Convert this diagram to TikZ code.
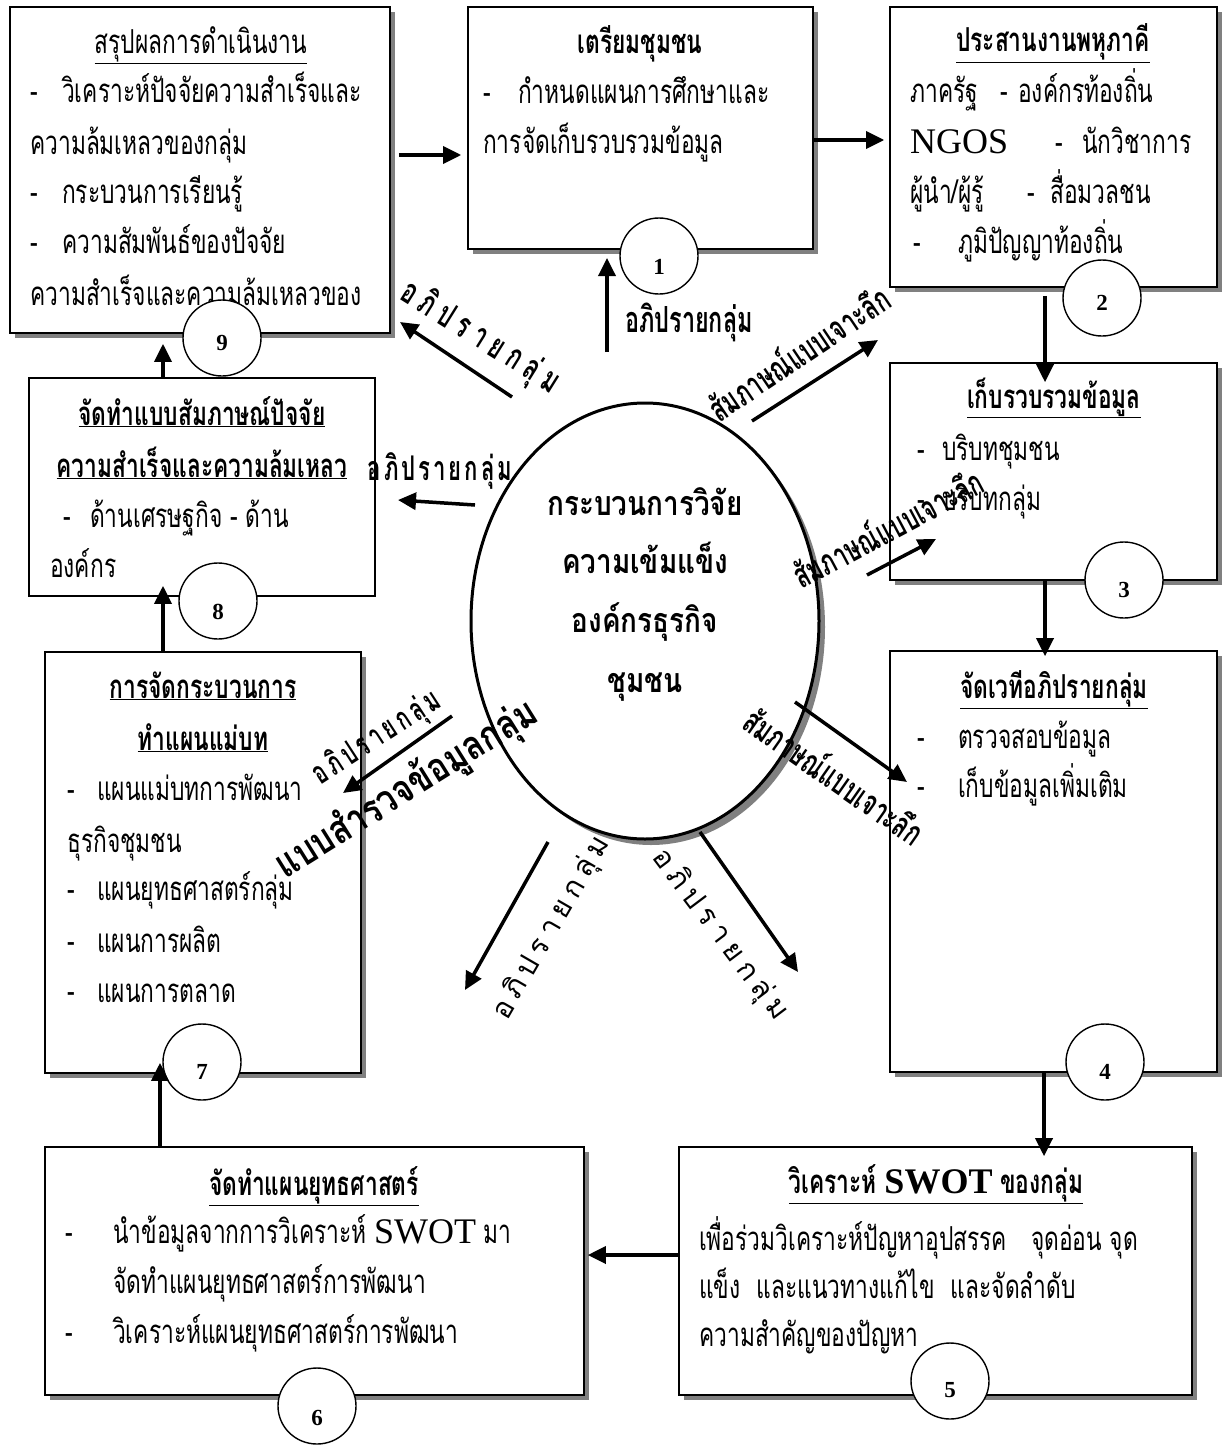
\documentclass[tikz,border=0pt]{standalone}
\usepackage{fontspec}
\setmainfont{Liberation Serif}
\newfontfamily\thai[Script=Thai,FakeStretch=0.69]{Loma}
\newfontfamily\thaic[Script=Thai,FakeStretch=0.65]{Loma}
\newfontfamily\thaiw[Script=Thai,FakeStretch=0.82]{Loma}
\newfontfamily\thain[Script=Thai]{Loma}
\usetikzlibrary{shapes.geometric,shadows,arrows.meta}
\newcommand\bodyth{\thai\fontsize{33}{38}\selectfont}
\newcommand\dashitem[2]{\makebox[#1][l]{-}#2}
\newcommand\latbig{\rmfamily\fontsize{36}{36}\selectfont}
\newlength\lgap
\newcommand\ksp{\hspace{\lgap}}
\tikzset{
  box/.style={draw, line width=1.6pt, fill=white, inner sep=0},
  shad/.style={drop shadow={shadow xshift=5pt, shadow yshift=-5pt, fill=gray, opacity=1}},
  num/.style={ellipse, draw, line width=1.4pt, fill=white, minimum width=78pt, minimum height=76pt, inner sep=0},
  numtxt/.style={inner sep=0, font=\fontsize{23}{23}\selectfont\bfseries},
  txt/.style={inner sep=0, anchor=base west, font=\bodyth},
  ttl/.style={inner sep=0, anchor=base, font=\bodyth\bfseries},
  ttlr/.style={inner sep=0, anchor=base, font=\bodyth},
  etxt/.style={inner sep=0, anchor=base, font=\thaiw\bfseries\fontsize{34}{34}\selectfont},
  arr/.style={line width=3.5pt, -{Triangle[length=18pt,width=17pt]}},
  lab/.style={inner sep=0, font=\thaic\bfseries\fontsize{35}{35}\selectfont},
  labn/.style={inner sep=0, font=\thain\fontsize{29}{29}\selectfont},
}
\begin{document}
\begin{tikzpicture}[x=1pt,y=-1pt]
\useasboundingbox (0,0) rectangle (1228,1445);
\fill[white] (0,0) rectangle (1228,1445);
% boxes
\node[box,shad,minimum width=380pt,minimum height=326pt] (b9) at (200,170) {};
\node[box,shad,minimum width=345pt,minimum height=242pt] (b1) at (640.5,128) {};
\node[box,shad,minimum width=327pt,minimum height=280pt] (b2) at (1053.5,147) {};
\node[box,minimum width=346pt,minimum height=218pt] (b8) at (202,487) {};
\node[box,shad,minimum width=327pt,minimum height=217pt] (b3) at (1053.5,471.5) {};
\node[box,shad,minimum width=316pt,minimum height=421pt] (b7) at (203,862.5) {};
\node[box,shad,minimum width=327pt,minimum height=421pt] (b4) at (1053.5,861.5) {};
\node[box,shad,minimum width=539pt,minimum height=248pt] (b6) at (314.5,1271) {};
\node[box,shad,minimum width=513pt,minimum height=248pt] (b5) at (935.5,1271) {};
% central ellipse
\node[ellipse,draw,line width=3pt,fill=white,minimum width=348pt,minimum height=436pt,inner sep=0,
  drop shadow={shadow xshift=6pt,shadow yshift=-6pt,fill=gray,opacity=1}] (E) at (645,621) {};
% box 9 text
\node[ttlr] (t9a) at (201,53) {\underline{สรุปผลการดำเนินงาน}};
\node[txt] (t9b) at (30,102) {\dashitem{32pt}{วิเคราะห์ปัจจัยความสำเร็จและ}};
\node[txt] (t9c) at (30,154) {ความล้มเหลวของกลุ่ม};
\node[txt] (t9d) at (30,203) {\dashitem{32pt}{กระบวนการเรียนรู้}};
\node[txt] (t9e) at (30,253) {\dashitem{32pt}{ความสัมพันธ์ของปัจจัย}};
\node[txt] (t9f) at (30,305) {ความสำเร็จและความล้มเหลวของ};
% box 1 text
\node[ttl] (t1a) at (640,53) {เตรียมชุมชน};
\node[txt] (t1b) at (483,103) {\dashitem{35pt}{กำหนดแผนการศึกษาและ}};
\node[txt] (t1c) at (483,153) {การจัดเก็บรวบรวมข้อมูล};
% box 2 text
\node[ttl] (t2a) at (1053,52) {\underline{ประสานงานพหุภาคี}};
\node[txt] (t2b) at (910,102) {\makebox[90pt][l]{ภาครัฐ}\makebox[18pt][l]{-}องค์กรท้องถิ่น};
\node[txt] (t2c) at (910,153) {\makebox[145pt][l]{\latbig NGOS}\makebox[27pt][l]{-}นักวิชาการ};
\node[txt] (t2d) at (910,203) {\makebox[117pt][l]{ผู้นำ/ผู้รู้}\makebox[23pt][l]{-}สื่อมวลชน};
\node[txt] (t2e) at (913,253) {\dashitem{45pt}{ภูมิปัญญาท้องถิ่น}};
% box 8 text
\node[ttl] (t8a) at (202,425) {\underline{จัดทำแบบสัมภาษณ์ปัจจัย}};
\node[ttl] (t8b) at (202,477) {\underline{ความสำเร็จและความล้มเหลว}};
\node[txt] (t8c) at (63,527) {\dashitem{27pt}{ด้านเศรษฐกิจ - ด้าน}};
\node[txt] (t8d) at (50,577) {องค์กร};
% box 3 text
\node[ttl] (t3a) at (1054,408) {\underline{เก็บรวบรวมข้อมูล}};
\node[txt] (t3b) at (917,460) {\dashitem{25pt}{บริบทชุมชน}};
\node[txt] (t3c) at (917,510) {\dashitem{25pt}{บริบทกลุ่ม}};
% box 7 text
\node[ttl] (t7a) at (203,698) {\underline{การจัดกระบวนการ}};
\node[ttl] (t7b) at (203,750) {\underline{ทำแผนแม่บท}};
\node[txt] (t7c) at (67,800) {\dashitem{30pt}{แผนแม่บทการพัฒนา}};
\node[txt] (t7d) at (67,852) {ธุรกิจชุมชน};
\node[txt] (t7e) at (67,900) {\dashitem{30pt}{แผนยุทธศาสตร์กลุ่ม}};
\node[txt] (t7f) at (67,952) {\dashitem{30pt}{แผนการผลิต}};
\node[txt] (t7g) at (67,1002) {\dashitem{30pt}{แผนการตลาด}};
% box 4 text
\node[ttl] (t4a) at (1054,698) {\underline{จัดเวทีอภิปรายกลุ่ม}};
\node[txt] (t4b) at (917,748) {\dashitem{41pt}{ตรวจสอบข้อมูล}};
\node[txt] (t4c) at (917,797) {\dashitem{41pt}{เก็บข้อมูลเพิ่มเติม}};
% box 6 text
\node[ttl] (t6a) at (314,1195) {\underline{จัดทำแผนยุทธศาสตร์}};
\node[txt] (t6b) at (65,1243) {\dashitem{48pt}{นำข้อมูลจากการวิเคราะห์ {\latbig SWOT} มา}};
\node[txt] (t6c) at (113,1293) {จัดทำแผนยุทธศาสตร์การพัฒนา};
\node[txt] (t6d) at (65,1343) {\dashitem{48pt}{วิเคราะห์แผนยุทธศาสตร์การพัฒนา}};
% box 5 text
\node[ttl] (t5a) at (936,1193) {\underline{วิเคราะห์ {\latbig\bfseries SWOT} ของกลุ่ม}};
\node[txt] (t5b) at (699,1250) {เพื่อร่วมวิเคราะห์ปัญหาอุปสรรค\hspace{24pt}จุดอ่อน จุด};
\node[txt] (t5c) at (699,1298) {แข็ง\hspace{16pt}และแนวทางแก้ไข\hspace{16pt}และจัดลำดับ};
\node[txt] (t5d) at (699,1346) {ความสำคัญของปัญหา};
% ellipse text
\node[etxt] (e1) at (645,515) {กระบวนการวิจัย};
\node[etxt] (e2) at (645,573) {ความเข้มแข็ง};
\node[etxt] (e3) at (645,632) {องค์กรธุรกิจ};
\node[etxt] (e4) at (645,692) {ชุมชน};
% numbered circles
\node[num] (c9) at (222,338) {};
\node[num] (c1) at (659,256) {};
\node[num] (c2) at (1102,298) {};
\node[num] (c3) at (1124,580) {};
\node[num] (c8) at (218,601) {};
\node[num] (c4) at (1105,1062) {};
\node[num] (c7) at (202,1062) {};
\node[num] (c5) at (950,1381) {};
\node[num] (c6) at (317,1406) {};
\node[numtxt] (n9) at (222,343) {9};
\node[numtxt] (n1) at (659,267) {1};
\node[numtxt] (n2) at (1102,303) {2};
\node[numtxt] (n3) at (1124,590) {3};
\node[numtxt] (n8) at (218,612) {8};
\node[numtxt] (n4) at (1105,1072) {4};
\node[numtxt] (n7) at (202,1072) {7};
\node[numtxt] (n5) at (950,1390) {5};
\node[numtxt] (n6) at (317,1418) {6};
% box-to-box arrows
\coordinate (p1) at ([yshift=15pt]b9.east);
\draw[arr,shorten <=8pt,shorten >=6pt] (p1) -- (p1 -| b1.west);
\coordinate (p2) at ([yshift=-12pt]b1.east);
\draw[arr,shorten >=5pt] (p2) -- (p2 -| b2.west);
\coordinate (p3) at ([xshift=-8.5pt]b2.south);
\coordinate (p3e) at (p3 |- b3.north);
\draw[arr,shorten <=8pt] (p3) -- ([yshift=-20pt]p3e);
\coordinate (p4) at ([xshift=-8.5pt]b3.south);
\coordinate (p4e) at (p4 |- b4.north);
\draw[arr] (p4) -- ([yshift=-6pt]p4e);
\coordinate (p5) at ([xshift=-9.5pt]b4.south);
\coordinate (p5e) at (p5 |- b5.north);
\draw[arr] (p5) -- ([yshift=-10pt]p5e);
\coordinate (p6) at ([yshift=16pt]b5.west);
\draw[arr,shorten >=3pt] (p6) -- (p6 -| b6.east);
\coordinate (p7) at ([xshift=-154.5pt]b6.north);
\coordinate (p7e) at (p7 |- b7.south);
\draw[arr] (p7) -- ([yshift=11pt]p7e);
\coordinate (p8) at ([xshift=-40pt]b7.north);
\coordinate (p8e) at (p8 |- b8.south);
\draw[arr] (p8) -- ([yshift=11pt]p8e);
\coordinate (p9) at ([xshift=-39pt]b8.north);
\coordinate (p9e) at (p9 |- b9.south);
\draw[arr] (p9) -- ([yshift=-10pt]p9e);
% ellipse arrows
\coordinate (e1s) at (607,352); \coordinate (e1e) at (607,258);
\coordinate (e2s) at (512,397); \coordinate (e2e) at (400,322);
\coordinate (e3s) at (475,505); \coordinate (e3e) at (398,500);
\coordinate (e4s) at (752,421); \coordinate (e4e) at (878,340);
\coordinate (e5s) at (867,575); \coordinate (e5e) at (936,539);
\coordinate (e6s) at (795,702); \coordinate (e6e) at (907,782);
\coordinate (e7s) at (548,842); \coordinate (e7e) at (465,990);
\coordinate (e8s) at (700,832); \coordinate (e8e) at (798,972);
\coordinate (e9s) at (452,716); \coordinate (e9e) at (343,793);
\foreach \i in {1,...,9} {\draw[arr] (e\i s) -- (e\i e);}
% labels
\node[lab,anchor=base,font=\thaic\bfseries\fontsize{36}{36}\selectfont] (L1) at (689,332) {อภิปรายกลุ่ม};
\node[lab,rotate=-32] (L2) at (480,338) {\setlength\lgap{7pt}อ\ksp ภิ\ksp ป\ksp ร\ksp า\ksp ย\ksp ก\ksp ลุ่\ksp ม};
\node[lab,anchor=base,font=\thaic\bfseries\fontsize{34}{34}\selectfont] (L3) at (440,480) {\setlength\lgap{3pt}อ\ksp ภิ\ksp ป\ksp ร\ksp า\ksp ย\ksp ก\ksp ลุ่\ksp ม};
\node[lab,rotate=34] (L4) at (798,352) {สัมภาษณ์แบบเจาะลึก};
\node[lab,rotate=28] (L5) at (887,527) {สัมภาษณ์แบบเจาะลึก};
\node[lab,rotate=-35] (L6) at (835,775) {สัมภาษณ์แบบเจาะลึก};
\node[lab,rotate=33,font=\thaic\bfseries\fontsize{32}{32}\selectfont] (L7) at (377,738) {\setlength\lgap{4pt}อ\ksp ภิ\ksp ป\ksp ร\ksp า\ksp ย\ksp ก\ksp ลุ่\ksp ม};
\node[inner sep=0,rotate=32,font=\thaiw\bfseries\fontsize{40}{40}\selectfont] (L8) at (407,790) {แบบสำรวจข้อมูลกลุ่ม};
\node[labn,rotate=60] (L9) at (552,928) {\setlength\lgap{6pt}อ\ksp ภิ\ksp ป\ksp ร\ksp า\ksp ย\ksp ก\ksp ลุ่\ksp ม};
\node[labn,rotate=-53] (L10) at (720,935) {\setlength\lgap{6pt}อ\ksp ภิ\ksp ป\ksp ร\ksp า\ksp ย\ksp ก\ksp ลุ่\ksp ม};
\end{tikzpicture}
\end{document}
